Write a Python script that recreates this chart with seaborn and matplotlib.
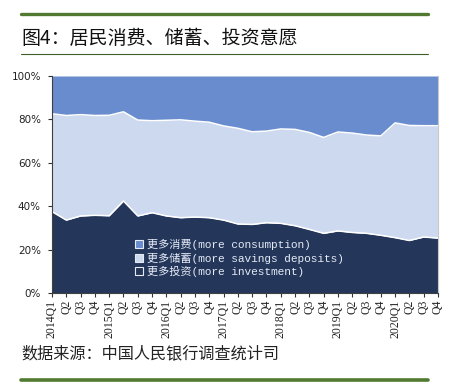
import numpy as np
import matplotlib
matplotlib.use('Agg')
import matplotlib.pyplot as plt
from matplotlib.patches import Patch
from matplotlib.lines import Line2D
import seaborn as sns

quarters = ['2014Q1', 'Q2', 'Q3', 'Q4', '2015Q1', 'Q2', 'Q3', 'Q4',
            '2016Q1', 'Q2', 'Q3', 'Q4', '2017Q1', 'Q2', 'Q3', 'Q4',
            '2018Q1', 'Q2', 'Q3', 'Q4', '2019Q1', 'Q2', 'Q3', 'Q4',
            '2020Q1', 'Q2', 'Q3', 'Q4']

# percentages (bottom -> top)
investment = [37.5, 33.6, 35.5, 35.8, 35.6, 42.4, 35.5, 37.0,
              35.5, 34.7, 35.0, 34.7, 33.6, 31.8, 31.6, 32.4,
              32.1, 31.0, 29.3, 27.5, 28.6, 27.9, 27.5, 26.6,
              25.5, 24.2, 25.8, 25.3]
savings = [45.1, 48.2, 46.7, 46.0, 46.3, 41.1, 44.2, 42.4,
           44.1, 45.1, 44.2, 44.0, 43.4, 44.1, 42.7, 42.2,
           43.5, 44.4, 44.7, 44.2, 45.6, 45.8, 45.3, 45.8,
           52.9, 53.0, 51.3, 51.8]
consumption = [17.4, 18.2, 17.8, 18.2, 18.1, 16.5, 20.3, 20.6,
               20.4, 20.2, 20.8, 21.3, 23.0, 24.1, 25.7, 25.4,
               24.4, 24.6, 26.0, 28.3, 25.8, 26.3, 27.2, 27.6,
               21.6, 22.8, 22.9, 22.9]

labels = ['更多消费(more consumption)', '更多储蓄(more savings deposits)',
          '更多投资(more investment)']

navy = '#24375a'
light = '#cdd9ee'
mid = '#688cce'
green = '#51792f'

sns.set_style('ticks')
plt.rcParams['font.family'] = ['DejaVu Sans', 'Noto Sans CJK SC']

fig = plt.figure(figsize=(4.52, 3.82), dpi=100)
ax = fig.add_axes([52 / 452, 89 / 382, 386 / 452, 217 / 382])

x = np.arange(len(quarters))
ax.stackplot(x, investment, savings, consumption,
             colors=[navy, light, mid], linewidth=0)
low = np.array(investment)
high = low + np.array(savings)
sns.lineplot(x=x, y=low, color='white', lw=1.1, ax=ax)
sns.lineplot(x=x, y=high, color='white', lw=1.1, ax=ax)

ax.set_xlim(0, len(quarters) - 1)
ax.set_ylim(0, 100)
ax.set_xticks(x)
ax.set_xticklabels(quarters, rotation=90, fontsize=8.5,
                   family=['Liberation Serif', 'DejaVu Sans'])
ax.set_yticks(range(0, 101, 20))
ax.set_yticklabels([f'{v}%' for v in range(0, 101, 20)], fontsize=7.5)
ax.tick_params(axis='x', direction='out', length=3, width=0.8, pad=2, colors='#333333')
ax.tick_params(axis='y', direction='out', length=3, width=0.8, pad=5, colors='#333333')
for lab in ax.get_xticklabels() + ax.get_yticklabels():
    lab.set_color('#222222')
ax.spines['top'].set_visible(False)
ax.spines['right'].set_color('#c8c8c8')
ax.spines['left'].set_color('#404040')
ax.spines['bottom'].set_color('#404040')
ax.set_xlabel('')
ax.set_ylabel('')

handles = [Patch(facecolor=mid, edgecolor='#e6ebf6', lw=0.8, label=labels[0]),
           Patch(facecolor=light, edgecolor='#e6ebf6', lw=0.8, label=labels[1]),
           Patch(facecolor=navy, edgecolor='#e6ebf6', lw=0.8, label=labels[2])]
fig.legend(handles=handles, loc='upper left', bbox_to_anchor=(135 / 452, 1 - 239 / 382),
           frameon=False, borderpad=0, borderaxespad=0, handlelength=0.7,
           handleheight=0.7, handletextpad=0.4, labelspacing=0.22,
           prop={'family': ['Liberation Mono', 'Noto Sans CJK SC'], 'size': 8},
           labelcolor='#e6ebf6')

fig.text(21 / 452, 1 - 38 / 382, '图4：居民消费、储蓄、投资意愿', fontsize=13.7,
         family=['Noto Sans CJK SC', 'DejaVu Sans'], color='#111111', va='center', ha='left')
fig.text(21 / 452, 1 - 354 / 382, '数据来源：中国人民银行调查统计司', fontsize=11.6,
         family=['Noto Sans CJK SC', 'DejaVu Sans'], color='#222222', va='center', ha='left')

fig.add_artist(Line2D([21 / 452, 428 / 452], [1 - 14.3 / 382] * 2, color=green, lw=2.4))
fig.add_artist(Line2D([21 / 452, 428 / 452], [1 - 53.5 / 382] * 2, color='#3f5f2a', lw=0.8))
fig.add_artist(Line2D([21 / 452, 428 / 452], [1 - 379.5 / 382] * 2, color=green, lw=2.6))

fig.savefig('out.png', dpi=100)
plt.close(fig)
